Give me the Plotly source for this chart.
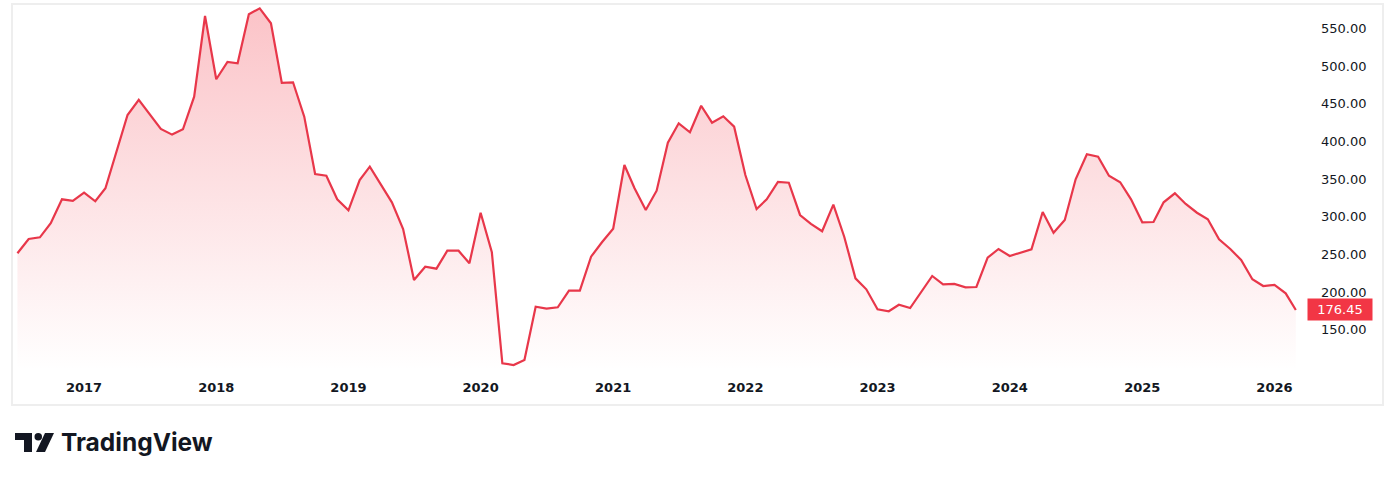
import pandas as pd
import plotly.graph_objects as go

# ---- data (monthly closes) ----
start_month = "2016-07-01"
values = [
    251.6, 270.6, 272.8, 291.4, 323.2, 321.0, 332.0, 320.6, 337.8, 386.0,
    435.0, 455.0, 436.0, 416.5, 409.0, 416.0, 459.3, 566.3, 482.4, 505.3,
    503.6, 568.6, 576.5, 556.6, 477.5, 478.4, 432.8, 356.8, 354.5, 323.2,
    308.6, 348.8, 366.5, 343.0, 319.2, 283.8, 216.2, 233.8, 231.2, 255.0,
    255.0, 238.3, 305.4, 252.9, 105.7, 103.4, 110.1, 180.8, 178.1, 180.0,
    202.0, 202.0, 247.1, 266.2, 284.2, 368.7, 337.8, 309.0, 334.6, 398.3,
    424.0, 412.1, 447.3, 424.8, 433.3, 419.5, 355.4, 310.3, 323.2, 346.2,
    345.2, 302.4, 290.5, 280.8, 316.1, 273.6, 218.4, 203.8, 177.3, 174.7,
    183.4, 179.0, 199.9, 221.5, 210.5, 210.9, 206.5, 206.9, 245.8, 257.3,
    248.0, 252.9, 256.9, 306.4, 278.9, 295.8, 349.7, 382.9, 379.7, 354.5,
    345.8, 323.2, 292.7, 293.1, 319.2, 331.2, 317.0, 305.4, 296.7, 270.2,
    257.3, 242.7, 217.1, 208.2, 209.6, 198.5, 176.45,
]
dates = pd.date_range(start_month, periods=len(values), freq="MS")
year_ticks = [f"{y}-01-01" for y in range(2017, 2027)]
year_labels = [str(y) for y in range(2017, 2027)]
price_ticks = [150, 200, 250, 300, 350, 400, 450, 500, 550]
last_price = values[-1]

RED = "#f23645"
LINE = "#e8374a"
TXT = "#131722"

# ---- layout geometry (pixels) ----
W, H = 1394, 480
L, R, T, B = 12, 1298, 5, 370
PW, PH = R - L, B - T


def px(xp):
    return (xp - L) / PW


def py(yp):
    return (B - yp) / PH


fig = go.Figure()
fig.add_trace(go.Scatter(
    x=dates, y=values, mode="lines",
    line=dict(color=LINE, width=2.2),
    fill="tozeroy",
    fillgradient=dict(
        type="vertical",
        colorscale=[[0, "rgba(242,54,69,0.0)"], [1, "rgba(242,54,69,0.30)"]],
        start=96, stop=580,
    ),
    hoverinfo="skip",
))

shapes = [
    # chart frame
    dict(type="rect", xref="paper", yref="paper",
         x0=px(12), x1=px(1383), y0=py(405), y1=py(4),
         line=dict(color="#eeeeee", width=2), fillcolor="rgba(0,0,0,0)", layer="below"),
    # TradingView logo glyph
    dict(type="rect", xref="paper", yref="paper",
         x0=px(15), x1=px(32), y0=py(440), y1=py(433),
         line=dict(width=0), fillcolor="#131722"),
    dict(type="rect", xref="paper", yref="paper",
         x0=px(24), x1=px(32), y0=py(452), y1=py(433),
         line=dict(width=0), fillcolor="#131722"),
    dict(type="circle", xref="paper", yref="paper",
         x0=px(34.5), x1=px(42), y0=py(440.5), y1=py(433),
         line=dict(width=0), fillcolor="#131722"),
    dict(type="path", xref="paper", yref="paper",
         path=(f"M {px(45)},{py(433)} L {px(54)},{py(433)} "
               f"L {px(45)},{py(452)} L {px(36)},{py(452)} Z"),
         line=dict(width=0), fillcolor="#131722"),
]

annotations = [
    dict(xref="paper", yref="paper", x=px(59), y=py(442), xanchor="left", yanchor="middle",
         text="TradingView", showarrow=False,
         font=dict(family="Inter, Roboto, sans-serif", size=24.5, color="#131722", weight=700)),
    dict(xref="paper", yref="y", x=px(1340), y=last_price, xanchor="center", yanchor="middle",
         text=f"{last_price:.2f}", showarrow=False, bgcolor=RED, borderpad=3, width=58,
         font=dict(family="DejaVu Sans", size=13, color="white")),
]

fig.update_layout(
    width=W, height=H, autosize=False,
    margin=dict(l=L, r=W - R, t=T, b=H - B),
    paper_bgcolor="white", plot_bgcolor="white",
    showlegend=False,
    shapes=shapes, annotations=annotations,
    font=dict(family="DejaVu Sans", color=TXT),
    xaxis=dict(
        range=["2016-06-16", "2026-03-07"],
        tickvals=year_ticks, ticktext=year_labels,
        tickfont=dict(family="DejaVu Sans", size=13, color=TXT, weight=700),
        showgrid=False, zeroline=False, showline=False, ticks="",
        ticklabelstandoff=8,
    ),
    yaxis=dict(
        side="right", range=[96.8, 580.9],
        tickvals=price_ticks, tickformat=".2f",
        tickfont=dict(family="DejaVu Sans", size=13, color=TXT),
        showgrid=False, zeroline=False, showline=False, ticks="",
        ticklabelstandoff=22,
    ),
)

fig.write_html(
    "out.html",
    config={"displayModeBar": False, "staticPlot": True},
    post_script="document.body.style.margin='0px';",
)
